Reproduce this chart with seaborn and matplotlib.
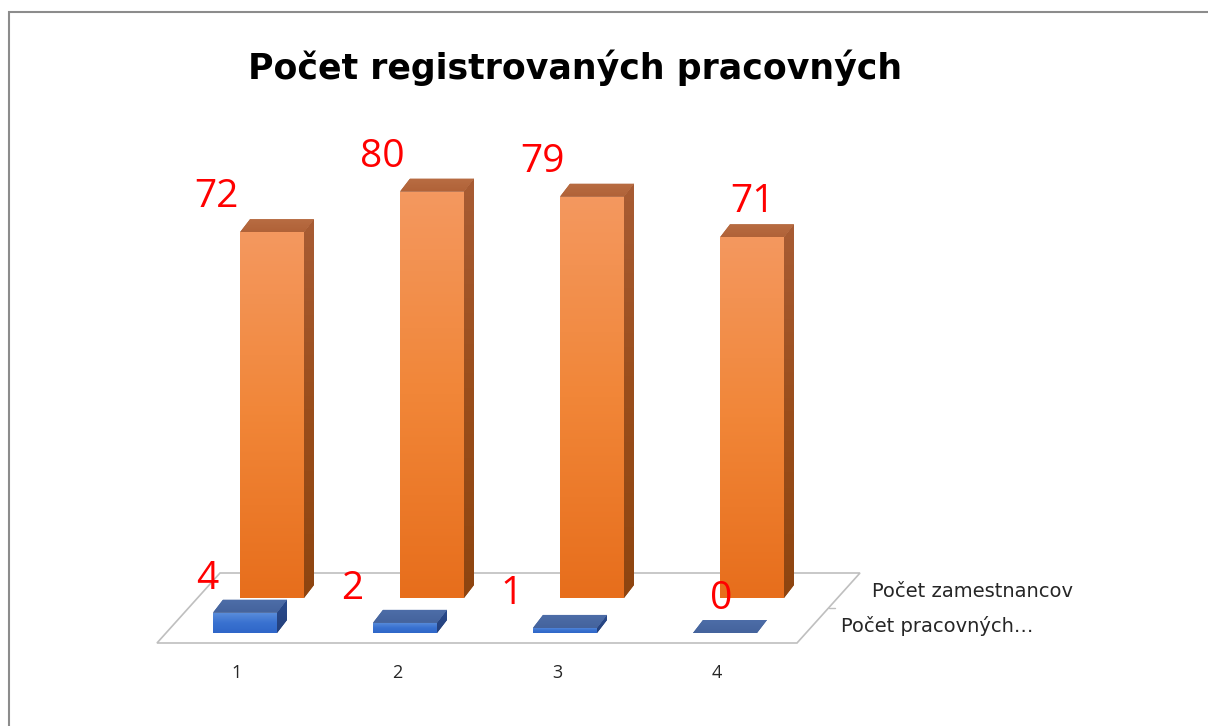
import numpy as np
import pandas as pd
import matplotlib
matplotlib.use("Agg")
import matplotlib.pyplot as plt
import seaborn as sns
from matplotlib.patches import Polygon, Rectangle
from matplotlib.transforms import IdentityTransform
from matplotlib.colors import LinearSegmentedColormap

# data
categories = ["1", "2", "3", "4"]
zamestnanci = [72, 80, 79, 71]
pracovne = [4, 2, 1, 0]
series_names = ["Počet zamestnancov", "Počet pracovných…"]
title = "Počet registrovaných pracovných"

sns.set_style("white")
plt.rcParams["font.family"] = ["Open Sans", "DejaVu Sans"]

W, H, DPI = 1208, 726, 100
fig = plt.figure(figsize=(W / DPI, H / DPI), dpi=DPI)
fig.patch.set_facecolor("white")

# pseudo 3D layout (pixels)
px_unit = 5.08           # pixels per value unit
floor_front = 643        # y of floor front edge (from top)
floor_depth = (63, 70)   # floor depth vector (dx, dy up)
bar_depth = (10, 13)     # depth of a single bar
row_shift = {"front": (8, 10), "back": (35, 45)}

ax_h = 560
ax = fig.add_axes([157 / W, (H - floor_front) / H, 640 / W, ax_h / H])

df_front = pd.DataFrame({"kat": categories, "hodnota": pracovne})
df_back = pd.DataFrame({"kat": categories, "hodnota": zamestnanci})

sns.barplot(data=df_front, x="kat", y="hodnota", color="#3A72D0",
            saturation=1, width=0.4, errorbar=None, ax=ax)
n_front = len(ax.patches)
sns.barplot(data=df_back, x="kat", y="hodnota", color="#EE7B30",
            saturation=1, width=0.4, errorbar=None, ax=ax)

ax.set_xlim(-0.5, len(categories) - 0.5)
ax.set_ylim(0, ax_h / px_unit)
for s in ax.spines.values():
    s.set_visible(False)
ax.set_yticks([])
ax.set_xlabel("")
ax.set_ylabel("")
ax.set_xticks(np.arange(-0.5, len(categories), 1), minor=True)
ax.tick_params(axis="x", which="major", length=0, pad=15, labelsize=13,
               labelcolor="#262626")
ax.tick_params(axis="x", which="minor", length=7, width=1, color="#BFBFBF",
               direction="out")


def shade(verts, colors, zorder):
    verts = np.asarray(verts, dtype=float)
    poly = Polygon(verts, closed=True, transform=IdentityTransform(),
                   facecolor=colors[len(colors) // 2], edgecolor="none",
                   zorder=zorder)
    ax.add_patch(poly)
    x0, y0 = verts.min(axis=0)
    x1, y1 = verts.max(axis=0)
    if y1 - y0 < 1.5:
        return
    cmap = LinearSegmentedColormap.from_list("g", colors)
    grad = np.linspace(0, 1, 128).reshape(-1, 1)
    im = ax.imshow(grad, cmap=cmap, extent=[x0, x1, y0, y1], origin="upper",
                   transform=IdentityTransform(), aspect="auto",
                   interpolation="bilinear", zorder=zorder + 0.1)
    im.set_clip_path(poly)
    im.set_clip_box(None)


# floor
fx0, fy0 = ax.transAxes.transform((0, 0))
fx1, _ = ax.transAxes.transform((1, 0))
dfx, dfy = floor_depth
floor = Polygon([(fx0, fy0), (fx1, fy0), (fx1 + dfx, fy0 + dfy), (fx0 + dfx, fy0 + dfy)],
                closed=True, transform=IdentityTransform(), facecolor="white",
                edgecolor="#BFBFBF", lw=1.2, zorder=0.5, clip_on=False)
ax.add_patch(floor)
mx, my = fx1 + dfx / 2, fy0 + dfy / 2
ax.add_line(plt.Line2D([mx, mx + 6], [my, my], color="#BFBFBF", lw=1,
                       transform=IdentityTransform(), clip_on=False))

colors = {
    "back": dict(front=["#F4985F", "#F18638", "#E76E1C"],
                 side=["#A85C34", "#9A4E1C", "#8E4510"],
                 top=["#B86C42", "#B06238"]),
    "front": dict(front=["#5C8FDC", "#3A72D0", "#2F66C8"],
                  side=["#2A4C8E", "#243F7A"],
                  top=["#4D6DA8", "#44639C"]),
}

label_off = {
    "back": ([-24, -18, -18, 33], 35),
    "front": ([-6, -21, -21, 28], 34),
}

bdx, bdy = bar_depth
for row, patches, z in (("back", ax.patches[n_front:n_front + 4], 2),
                        ("front", ax.patches[:n_front], 4)):
    sdx, sdy = row_shift[row]
    c = colors[row]
    for i, p in enumerate(patches):
        x0, w, h = p.get_x(), p.get_width(), p.get_height()
        (xl, yb), (xr, yt) = ax.transData.transform([(x0, 0), (x0 + w, h)])
        xl, xr, yb, yt = xl + sdx, xr + sdx, yb + sdy, yt + sdy
        p.set_visible(False)
        shade([(xr, yb), (xr, yt), (xr + bdx, yt + bdy), (xr + bdx, yb + bdy)], c["side"], z)
        shade([(xl, yt), (xr, yt), (xr + bdx, yt + bdy), (xl + bdx, yt + bdy)], c["top"], z)
        if yt - yb > 0.5:
            shade([(xl, yb), (xr, yb), (xr, yt), (xl, yt)], c["front"], z + 0.5)
        # value label
        dxs, dy = label_off[row]
        ax.text(xl + dxs[i], yt + dy, str(int(round(h))), transform=IdentityTransform(),
                ha="center", va="center", fontsize=28, color="#FF0000", zorder=10)

    # series name on the depth axis
    mid = sdy + bdy / 2
    lx = fx1 + dfx * mid / dfy + 29
    ly = fy0 + mid
    name = series_names[0] if row == "back" else series_names[1]
    ax.text(lx, ly, name, transform=IdentityTransform(), ha="left", va="center",
            fontsize=14, color="#262626", clip_on=False, family="DejaVu Sans")

fig.text(575 / W, 1 - 68 / H, title, ha="center", va="center",
         fontsize=25, fontweight="bold", color="black", family="DejaVu Sans")

# outer chart border (cut at right and bottom like the screenshot)
fig.add_artist(Rectangle((9 / W, -0.1), 1.2, 1 - 12 / H + 0.1, transform=fig.transFigure,
                         fill=False, edgecolor="#8C8C8C", lw=1.5))

fig.savefig("out.png", dpi=DPI)
